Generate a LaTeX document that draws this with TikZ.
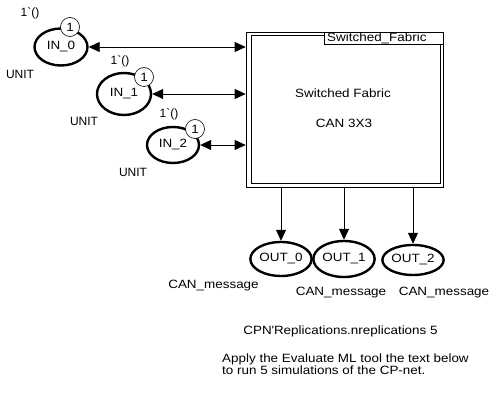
\documentclass[tikz,border=0pt]{standalone}
\usepackage{fontspec}
\setmainfont{Liberation Sans}[FakeStretch=1.12]
\newfontfamily\narrowfont{Liberation Sans}
\usetikzlibrary{shapes.geometric,arrows.meta}
\begin{document}
\begin{tikzpicture}[x=1pt,y=-1pt,
  every node/.style={font=\fontsize{12}{13}\selectfont, inner sep=0pt},
  place/.style={ellipse, draw, line width=2.4pt},
  token/.style={circle, draw, fill=white, line width=0.6pt, minimum size=19pt},
  arc/.style={line width=0.8pt, -{Triangle[length=11pt,width=10pt]}},
  biarc/.style={line width=0.8pt, {Triangle[length=11pt,width=10pt]}-{Triangle[length=11pt,width=10pt]}},
  lbl/.style={anchor=base},
  small/.style={anchor=base, font=\narrowfont\fontsize{12}{13}\selectfont}]
\useasboundingbox (0,0) rectangle (491,398);

% substitution transition
\node[draw, line width=0.7pt, minimum width=197pt, minimum height=155pt] (box) at (344.5,109.5) {};
\draw[line width=0.7pt] (251,35.5) rectangle (440.5,183);
\node[draw, fill=white, line width=0.7pt, minimum width=119pt, minimum height=12pt, anchor=north east] (tag) at (box.north east) {};
\node[anchor=base west] (tagtxt) at (327,42) {Switched\_Fabric};
\node[lbl] (t1) at (343,98) {Switched Fabric};
\node[lbl] (t2) at (344,128) {CAN 3X3};

% input places
\node[place, minimum width=53pt, minimum height=37pt] (in0) at (61,47) {IN\_0};
\node[place, minimum width=54pt, minimum height=42pt] (in1) at (124,94) {IN\_1};
\node[place, minimum width=52pt, minimum height=36pt] (in2) at (173,145) {IN\_2};

\node[token] (k0) at (70,27) {1};
\node[token] (k1) at (144,77) {1};
\node[token] (k2) at (195,129) {1};

\node[small] (m0) at (30,17) {1\textasciigrave()};
\node[small] (m1) at (120,65) {1\textasciigrave()};
\node[small] (m2) at (169,118) {1\textasciigrave()};

\node[small] (u0) at (20,79) {UNIT};
\node[small] (u1) at (84,126) {UNIT};
\node[small] (u2) at (133,177) {UNIT};

% output places
\node[place, minimum width=55pt, minimum height=34pt] (out0) at (281,259) {OUT\_0};
\node[place, minimum width=61pt, minimum height=36pt] (out1) at (344,259) {OUT\_1};
\node[place, minimum width=51pt, minimum height=30pt] (out2) at (413,260) {OUT\_2};

\node[lbl] (c0) at (213.5,289) {CAN\_message};
\node[lbl] (c1) at (341,296) {CAN\_message};
\node[lbl] (c2) at (444,296) {CAN\_message};

% arcs
\draw[biarc] (in0.east) -- (box.west |- in0.east);
\draw[biarc] (in1.east) -- (box.west |- in1.east);
\draw[biarc] (in2.east) -- (box.west |- in2.east);
\draw[arc] (box.south -| out0.north) -- (out0.north);
\draw[arc] (box.south -| out1.north) -- (out1.north);
\draw[arc] (box.south -| out2.north) -- (out2.north);

% notes
\node[lbl] (rep) at (340.5,335) {CPN\textquotesingle Replications.nreplications 5};
\node[anchor=base west, align=left, font=\fontsize{12}{10}\selectfont] (note) at (222,375) {Apply the Evaluate ML tool the text below\\to run 5 simulations of the CP-net.};
\end{tikzpicture}
\end{document}
